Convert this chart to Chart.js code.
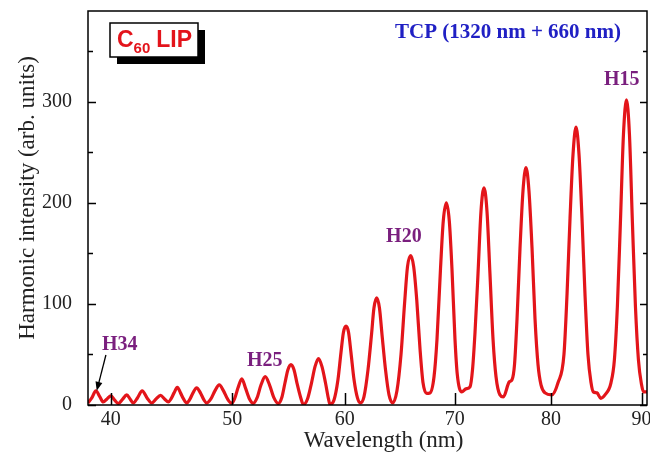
<!DOCTYPE html>
<html>
<head>
<meta charset="utf-8">
<script src="https://cdn.jsdelivr.net/npm/chart.js@4.4.0/dist/chart.umd.min.js"></script>
<style>
html,body{margin:0;padding:0;background:#fff;}
#wrap{width:650px;height:454px;position:relative;}
</style>
</head>
<body>
<div id="wrap"><canvas id="c" width="650" height="454"></canvas></div>
<script>
// ---------- data ----------
const WAVELENGTH = [
  38.15, 38.46, 38.79, 39.12, 39.39, 39.70, 40.02, 40.31, 40.63, 40.97, 41.32, 41.59, 41.86,
  42.20, 42.59, 42.99, 43.37, 43.73, 44.10, 44.43, 44.74, 44.96, 45.21, 45.48, 45.74, 45.99, 46.25,
  46.48, 46.77, 47.07, 47.38, 47.67, 47.89, 48.24, 48.57, 48.93, 49.28, 49.61, 49.95,
  50.20, 50.51, 50.85, 51.17, 51.53, 51.87, 52.20, 52.56, 52.93, 53.31, 53.71, 54.09,
  54.42, 54.69, 54.95, 55.22, 55.49, 55.75, 56.07, 56.32, 56.69, 57.05, 57.36, 57.67, 57.98, 58.29, 58.56, 58.69,
  59.05, 59.40, 59.67, 59.89, 60.12, 60.35, 60.57, 60.85, 61.16, 61.42,
  61.75, 62.12, 62.44, 62.66, 62.91, 63.16, 63.39, 63.71, 64.03, 64.36,
  64.75, 65.12, 65.44, 65.71, 66.00, 66.27, 66.55, 66.85, 67.12, 67.45,
  67.75, 68.12, 68.39, 68.71, 68.96, 69.24, 69.51, 69.75, 70.03, 70.27, 70.73,
  71.17, 71.59, 71.85, 72.11, 72.42, 72.73, 73.04, 73.35, 73.66, 73.98, 74.29, 74.70, 75.05,
  75.67, 75.95, 76.21, 76.47, 76.78, 77.09, 77.40, 77.71, 78.03, 78.34, 78.65, 78.96, 79.38, 80.08,
  80.77, 81.43, 81.77, 82.10, 82.43, 82.76, 83.09, 83.42, 83.75, 84.08, 84.42, 84.67, 85.08, 85.49,
  85.96, 86.62, 87.00, 87.33, 87.66, 88.00, 88.33, 88.66, 88.99, 89.32, 89.65, 90.00, 90.21, 90.60
];
const INTENSITY = [
  2, 7, 14, 8, 3, 6, 9, 5, 1.5, 5.5, 10, 6, 2,
  7, 14, 7, 2, 6, 9.5, 6, 3, 6, 12, 17.5, 12, 6, 2,
  5, 12, 17, 12, 5, 2, 6, 14, 20, 14, 6, 1.7,
  6, 17, 26, 17, 6, 1.7, 7, 20, 28, 20, 7, 1.5,
  8, 22, 35, 40, 35, 22, 8, 0.5, 6, 22, 38, 46, 38, 22, 6, 0.5,
  5, 25, 52, 72, 78, 72, 52, 25, 7, 2,
  8, 35, 70, 96, 106, 96, 70, 35, 10, 2,
  14, 50, 100, 137, 148, 137, 104, 55, 22, 11.6,
  12, 28, 65, 135, 182, 200, 182, 135, 65, 30, 13,
  16, 18, 35, 72, 130, 192, 215, 192, 130, 65, 28, 10, 8,
  23, 25, 40, 85, 155, 212, 235, 212, 155, 85, 40, 20, 12, 10,
  22, 50, 110, 185, 248, 275, 248, 185, 110, 50, 22, 13, 12, 6.6,
  10, 22, 45, 98, 180, 268, 302, 268, 180, 98, 45, 20, 13, 13
];
const X_TICKS = [40, 50, 60, 70, 80, 90];
const Y_TICKS = [0, 100, 200, 300];
const Y_MINOR = [50, 150, 250, 350];
const HARMONIC_LABELS = ['H34', 'H25', 'H20', 'H15'];
const HARMONIC_LABEL_WL = [40.74, 52.88, 65.38, 87.81];
const HARMONIC_LABEL_VAL = [60, 44, 166, 322];

// ---------- non-uniform wavelength axis (spectrometer calibration) ----------
const WARP_WL = [38.15, 40, 50, 60, 70, 80, 90, 90.6];
const WARP_FR = [0, 0.0406, 0.2581, 0.4592, 0.6560, 0.8283, 0.9903, 1];
function warp(v) {
  let i = 0;
  while (i < WARP_WL.length - 2 && v > WARP_WL[i + 1]) i++;
  const t = (v - WARP_WL[i]) / (WARP_WL[i + 1] - WARP_WL[i]);
  return WARP_FR[i] + t * (WARP_FR[i + 1] - WARP_FR[i]);
}
function unwarp(f) {
  let i = 0;
  while (i < WARP_FR.length - 2 && f > WARP_FR[i + 1]) i++;
  const t = (f - WARP_FR[i]) / (WARP_FR[i + 1] - WARP_FR[i]);
  return WARP_WL[i] + t * (WARP_WL[i + 1] - WARP_WL[i]);
}
class WarpScale extends Chart.LinearScale {
  getPixelForValue(value) {
    if (value === null || isNaN(value)) return NaN;
    return this.getPixelForDecimal(warp(value));
  }
  getValueForPixel(pixel) {
    return unwarp(this.getDecimalForPixel(pixel));
  }
}
WarpScale.id = 'warp';
WarpScale.defaults = Chart.LinearScale.defaults;
Chart.register(WarpScale);

const SERIF = "'Liberation Serif', 'Times New Roman', serif";
const SANS = "'Liberation Sans', Arial, sans-serif";

const framePlugin = {
  id: 'frame',
  afterDatasetsDraw(chart) {
    const { ctx, chartArea: a, scales: { x, y } } = chart;
    ctx.save();
    ctx.strokeStyle = '#000';
    ctx.lineWidth = 1.5;
    ctx.strokeRect(a.left, a.top, a.right - a.left, a.bottom - a.top);
    ctx.beginPath();
    X_TICKS.forEach(v => {
      const px = Math.round(x.getPixelForValue(v)) + 0.5;
      ctx.moveTo(px, a.bottom); ctx.lineTo(px, a.bottom - 12);
    });
    Y_TICKS.forEach(v => {
      const py = Math.round(y.getPixelForValue(v)) + 0.5;
      ctx.moveTo(a.left, py); ctx.lineTo(a.left + 8, py);
      ctx.moveTo(a.right, py); ctx.lineTo(a.right - 7, py);
    });
    Y_MINOR.forEach(v => {
      const py = Math.round(y.getPixelForValue(v)) + 0.5;
      ctx.moveTo(a.left, py); ctx.lineTo(a.left + 5, py);
      ctx.moveTo(a.right, py); ctx.lineTo(a.right - 4, py);
    });
    ctx.stroke();
    ctx.restore();
  },
  afterDraw(chart) {
    const { ctx, chartArea: a, scales: { x, y } } = chart;
    ctx.save();
    // axis titles
    ctx.fillStyle = '#222';
    ctx.font = '23px ' + SERIF;
    ctx.textAlign = 'center';
    ctx.textBaseline = 'middle';
    ctx.fillText('Wavelength (nm)', (a.left + a.right) / 2 + 16, 441);
    ctx.save();
    ctx.translate(28, 198);
    ctx.rotate(-Math.PI / 2);
    ctx.fillText('Harmonic intensity (arb. units)', 0, 0);
    ctx.restore();

    // harmonic labels
    ctx.fillStyle = '#7a1f7e';
    ctx.font = 'bold 20px ' + SERIF;
    HARMONIC_LABELS.forEach((t, i) => {
      ctx.fillText(t, x.getPixelForValue(HARMONIC_LABEL_WL[i]), y.getPixelForValue(HARMONIC_LABEL_VAL[i]));
    });

    // arrow to H34
    const x1 = x.getPixelForValue(39.61), y1 = y.getPixelForValue(49.5);
    const x2 = x.getPixelForValue(38.86), y2 = y.getPixelForValue(14);
    const ang = Math.atan2(y2 - y1, x2 - x1);
    ctx.strokeStyle = '#000';
    ctx.fillStyle = '#000';
    ctx.lineWidth = 1.3;
    ctx.beginPath();
    ctx.moveTo(x1, y1);
    ctx.lineTo(x2 - 6 * Math.cos(ang), y2 - 6 * Math.sin(ang));
    ctx.stroke();
    ctx.beginPath();
    ctx.moveTo(x2, y2);
    ctx.lineTo(x2 - 9 * Math.cos(ang) + 3.5 * Math.sin(ang), y2 - 9 * Math.sin(ang) - 3.5 * Math.cos(ang));
    ctx.lineTo(x2 - 9 * Math.cos(ang) - 3.5 * Math.sin(ang), y2 - 9 * Math.sin(ang) + 3.5 * Math.cos(ang));
    ctx.closePath();
    ctx.fill();

    // TCP text
    ctx.fillStyle = '#2020c4';
    ctx.font = 'bold 21px ' + SERIF;
    ctx.textAlign = 'center';
    ctx.fillText('TCP (1320 nm + 660 nm)', 508, 33);

    // C60 LIP box
    const bx = a.left + 22, by = a.top + 12, bw = 88, bh = 34;
    ctx.fillStyle = '#000';
    ctx.fillRect(bx + 7, by + 7, bw, bh);
    ctx.fillStyle = '#fff';
    ctx.fillRect(bx, by, bw, bh);
    ctx.strokeStyle = '#000';
    ctx.lineWidth = 1.5;
    ctx.strokeRect(bx, by, bw, bh);
    ctx.fillStyle = '#e3141b';
    ctx.textAlign = 'left';
    ctx.textBaseline = 'alphabetic';
    ctx.font = 'bold 23px ' + SANS;
    ctx.fillText('C', bx + 7, by + 24);
    const cw = ctx.measureText('C').width;
    ctx.font = 'bold 15px ' + SANS;
    ctx.fillText('60', bx + 7 + cw, by + 30);
    const sw = ctx.measureText('60').width;
    ctx.font = 'bold 23px ' + SANS;
    ctx.fillText('LIP', bx + 7 + cw + sw + 6, by + 24);
    ctx.restore();
  }
};

new Chart(document.getElementById('c'), {
  type: 'line',
  data: {
    datasets: [{
      data: WAVELENGTH.map((w, i) => ({ x: w, y: INTENSITY[i] })),
      borderColor: '#e3151a',
      borderWidth: 3.2,
      pointRadius: 0,
      cubicInterpolationMode: 'monotone',
      fill: false
    }]
  },
  options: {
    responsive: false,
    animation: false,
    devicePixelRatio: 1,
    layout: { padding: { top: 11, right: 3, left: 0, bottom: 0 } },
    plugins: { legend: { display: false }, tooltip: { enabled: false } },
    scales: {
      x: {
        type: 'warp',
        position: 'bottom',
        min: 38.15,
        max: 90.6,
        grid: { display: false },
        border: { display: false },
        afterBuildTicks: s => { s.ticks = X_TICKS.map(v => ({ value: v })); },
        afterFit: s => { s.height = 49; s.paddingLeft = 0; s.paddingRight = 0; },
        ticks: { autoSkip: false, maxRotation: 0, padding: -5, color: '#222', font: { family: SERIF, size: 20 } }
      },
      y: {
        type: 'linear',
        min: 0,
        max: 390,
        grid: { display: false },
        border: { display: false },
        afterBuildTicks: s => { s.ticks = Y_TICKS.map(v => ({ value: v })); },
        afterFit: s => { s.width = 88; s.paddingTop = 0; s.paddingBottom = 0; },
        ticks: { padding: 8, color: '#222', font: { family: SERIF, size: 20 } }
      }
    }
  },
  plugins: [framePlugin]
});
</script>
</body>
</html>
